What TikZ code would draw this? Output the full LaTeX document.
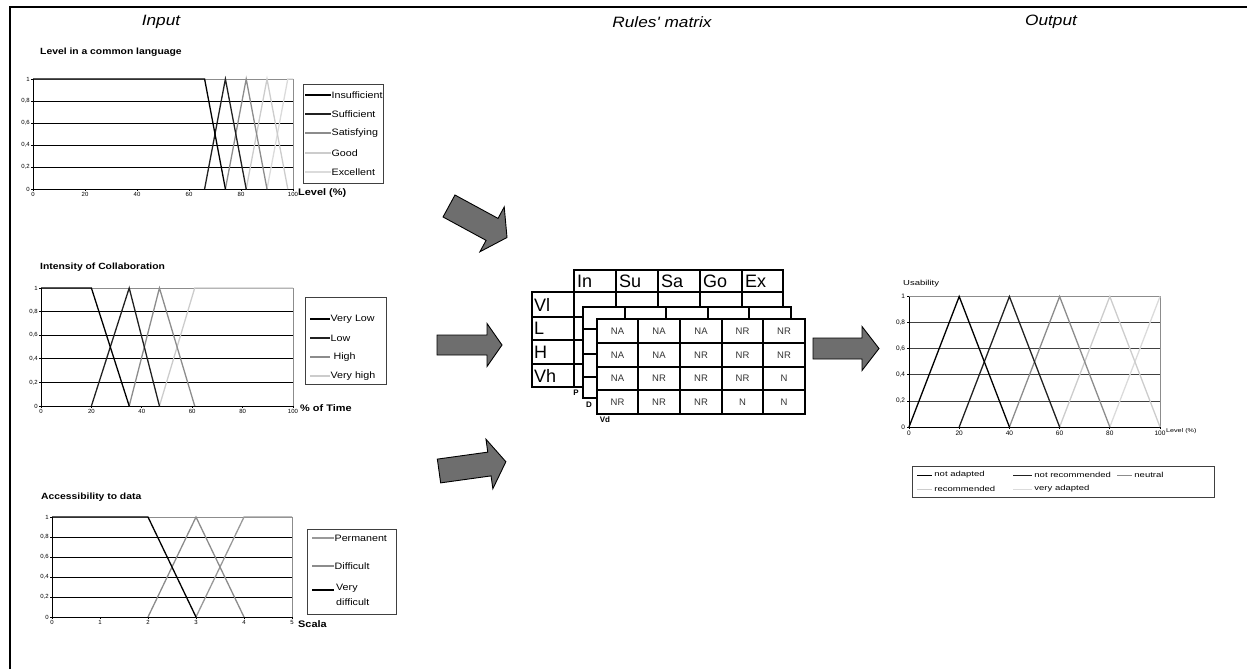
\documentclass[tikz,border=0pt]{standalone}
\usepackage{fontspec}
\setmainfont{Liberation Sans}
\newfontfamily\chf[FakeStretch=1.15]{Liberation Sans}
\newfontfamily\otf[FakeStretch=1.3]{Liberation Sans}
\definecolor{ca}{gray}{0}
\definecolor{cb}{gray}{0.13}
\definecolor{cc}{gray}{0.55}
\definecolor{cd}{gray}{0.80}
\definecolor{ce}{gray}{0.86}
\definecolor{arrowgray}{gray}{0.43}
\tikzset{
  ttl/.style={font=\chf\itshape\fontsize{15}{17}\selectfont, inner sep=0},
  ctitle/.style={font=\chf\bfseries\fontsize{9}{10}\selectfont, anchor=west, inner sep=0},
  axlbl/.style={font=\chf\bfseries\fontsize{9.5}{10}\selectfont, anchor=west, inner sep=0},
  leg/.style={font=\chf\fontsize{9.3}{10}\selectfont, anchor=west, inner sep=0, align=left, text=black},
  oleg/.style={font=\otf\fontsize{7.3}{8}\selectfont, anchor=west, inner sep=0, text=black},
  tick/.style={font=\fontsize{6}{7}\selectfont, inner sep=1pt},
  otick/.style={font=\fontsize{6.5}{7}\selectfont, inner sep=1.5pt},
  gridl/.style={black, line width=0.8pt},
  pframe/.style={black!45, line width=0.8pt},
  axisl/.style={black, line width=0.8pt},
  ml/.style={line width=1.3pt},
  legbox/.style={draw=black!75, line width=0.9pt, fill=none, inner sep=0},
  tab/.style={draw=black, line width=1.3pt, fill=white},
  hdr/.style={font=\fontsize{18}{20}\selectfont, anchor=west, inner sep=0},
  cell/.style={font=\fontsize{9.5}{10}\selectfont, text=black!80, inner sep=0},
  lay/.style={font=\bfseries\fontsize{8}{9}\selectfont, inner sep=0},
  barrow/.style={draw=black, line width=0.9pt, fill=arrowgray, line join=miter},
}
% tail x, tail y, angle, length, shaft width, head width, head length
\newcommand\blockarr[7]{%
  \begin{scope}[shift={(#1,#2)}, rotate=#3]
    \draw[barrow] (0pt,-#5pt/2) -- (#4pt-#7pt,-#5pt/2) -- (#4pt-#7pt,-#6pt/2) -- (#4pt,0pt)
      -- (#4pt-#7pt,#6pt/2) -- (#4pt-#7pt,#5pt/2) -- (0pt,#5pt/2) -- cycle;
  \end{scope}}
% chart base: xmax, tick list, name prefix, tick style, grid colour
\newcommand\chartbase[5]{%
  \foreach \v in {0.2,0.4,0.6,0.8} \draw[gridl, draw=#5] (0,\v) -- (#1,\v);
  \draw[pframe] (0,1) -- (#1,1) -- (#1,0);
  \draw[axisl] (0,1) -- (0,0) -- (#1,0);
  \foreach \v/\l [count=\i] in {0/0,0.2/{0,2},0.4/{0,4},0.6/{0,6},0.8/{0,8},1/1}
    \draw[axisl] (0,\v) -- ++(-2pt,0) node[#4,left] (#3y\i) {\l};
  \foreach \v [count=\i] in {#2}
    \draw[axisl] (\v,0) -- ++(0,-2pt) node[#4,below] (#3x\i) {\v};
}
\begin{document}
\begin{tikzpicture}[x=1pt,y=-1pt]
\useasboundingbox (0,0) rectangle (1247,669);
% frame
\draw[line width=2pt] (10,669) -- (10,7) -- (1247,7);
% titles
\node[ttl] (tin) at (161,22) {Input};
\node[ttl] (trm) at (662,22) {Rules' matrix};
\node[ttl] (tout) at (1051,22) {Output};

% ---------- chart 1 ----------
\node[ctitle] (c1t) at (40,52) {Level in a common language};
\begin{scope}[shift={(33,189)}, x=2.6pt, y=110pt]
  \chartbase{100}{0,20,40,60,80,100}{ca}{tick}{black}
  \draw[ml, ce] (90,0) -- (98,1) -- (100,1);
  \draw[ml, cd] (82,0) -- (90,1) -- (98,0);
  \draw[ml, cc] (74,0) -- (82,1) -- (90,0);
  \draw[ml, cb] (66,0) -- (74,1) -- (82,0);
  \draw[ml, ca] (0,1) -- (66,1) -- (74,0);
\end{scope}
\node[axlbl] (c1ax) at (298,193) {Level (\%)};
\draw[legbox] (303,84) rectangle (383,183);
\draw[ml, ca] (305,95) -- (331,95) node[leg] (l1a) {Insufficient};
\draw[ml, cb] (305,114) -- (331,114) node[leg] (l1b) {Sufficient};
\draw[ml, cc] (305,133) -- (331,133) node[leg] (l1c) {Satisfying};
\draw[ml, cd] (305,153) -- (331,153) node[leg] (l1d) {Good};
\draw[ml, ce] (305,172) -- (331,172) node[leg] (l1e) {Excellent};

% ---------- chart 2 ----------
\node[ctitle] (c2t) at (40,267) {Intensity of Collaboration};
\begin{scope}[shift={(41,406)}, x=2.52pt, y=118pt]
  \chartbase{100}{0,20,40,60,80,100}{cb}{tick}{black}
  \draw[ml, cd] (47,0) -- (61,1) -- (100,1);
  \draw[ml, cc] (35,0) -- (47,1) -- (61,0);
  \draw[ml, cb] (20,0) -- (35,1) -- (47,0);
  \draw[ml, ca] (0,1) -- (20,1) -- (35,0);
\end{scope}
\node[axlbl] (c2ax) at (300,408) {\% of Time};
\draw[legbox] (305,297) rectangle (386,384);
\draw[ml, ca] (310,319) -- (330,319) node[leg] (l2a) {Very Low};
\draw[ml, cb] (310,338) -- (330,338) node[leg] (l2b) {Low};
\draw[ml, cc] (310,357) -- (330,357) node[leg] (l2c) {\ High};
\draw[ml, cd] (310,376) -- (330,376) node[leg] (l2d) {Very high};

% ---------- chart 3 ----------
\node[ctitle] (c3t) at (41,497) {Accessibility to data};
\begin{scope}[shift={(52,617)}, x=48pt, y=100pt]
  \chartbase{5}{0,1,2,3,4,5}{cc}{tick}{black}
  \draw[ml, black!40] (3,0) -- (4,1) -- (5,1);
  \draw[ml, cc] (2,0) -- (3,1) -- (4,0);
  \draw[ml, ca] (0,1) -- (2,1) -- (3,0);
\end{scope}
\node[axlbl] (c3ax) at (298,624) {Scala};
\draw[legbox] (307,529) rectangle (396,614);
\draw[ml, black!40] (312,538) -- (334,538) node[leg] (l3a) {Permanent};
\draw[ml, cc] (312,566) -- (334,566) node[leg] (l3b) {Difficult};
\draw[ml, ca] (312,590) -- (334,590);
\node[leg, anchor=north west] (l3c) at (336,584) {Very\\[5pt]difficult};

% ---------- output chart ----------
\node[oleg] (usab) at (903,284) {Usability};
\begin{scope}[shift={(909,427)}, x=2.51pt, y=130.5pt]
  \chartbase{100}{0,20,40,60,80,100}{oc}{otick}{black!75}
  \draw[ml, ce] (80,0) -- (100,1);
  \draw[ml, cd] (60,0) -- (80,1) -- (100,0);
  \draw[ml, cc] (40,0) -- (60,1) -- (80,0);
  \draw[ml, cb] (20,0) -- (40,1) -- (60,0);
  \draw[ml, ca] (0,0) -- (20,1) -- (40,0);
\end{scope}
\node[font=\otf\fontsize{5.5}{6}\selectfont, anchor=west, inner sep=0] (oax) at (1166,431) {Level (\%)};
\draw[legbox] (912,466) rectangle (1214,497);
\draw[line width=0.9pt, ca] (917,475) -- (932,475) node[oleg, xshift=2pt] (ola) {not adapted};
\draw[line width=0.9pt, cb] (1013,475) -- (1032,475) node[oleg, xshift=2pt] (olb) {not recommended};
\draw[line width=0.9pt, cc] (1117,475) -- (1132,475) node[oleg, xshift=2pt] (olc) {neutral};
\draw[line width=0.9pt, cd] (917,489) -- (932,489) node[oleg, xshift=2pt] (old) {recommended};
\draw[line width=0.9pt, ce] (1013,489) -- (1032,489) node[oleg, xshift=2pt] (ole) {very adapted};

% ---------- rules matrix ----------
% back layer (P)
\draw[tab] (574,270) rectangle (783,292);
\foreach \x in {616,658,700,742} \draw[tab] (\x,270) -- (\x,292);
\draw[tab] (532,292) rectangle (783,387);
\draw[tab] (574,292) -- (574,387);
\foreach \x in {616,658,700,742} \draw[tab] (\x,292) -- (\x,387);
\foreach \y in {317,340,364} \draw[tab] (532,\y) -- (783,\y);
\foreach \t/\x [count=\i] in {In/574,Su/616,Sa/658,Go/700,Ex/742}
  \node[hdr] (h\i) at (\x+3,281.5) {\t};
\foreach \t/\y [count=\i] in {Vl/304.5,L/328.5,H/352,Vh/375.5}
  \node[hdr] (r\i) at (534,\y) {\t};
\node[lay] (lp) at (576,393) {P};
% middle layer (D)
\draw[tab] (583,307) rectangle (791,398);
\foreach \x in {625,666,708,749} \draw[tab] (\x,307) -- (\x,398);
\foreach \y in {329,354,377} \draw[tab] (583,\y) -- (791,\y);
\node[lay] (ld) at (589,405) {D};
% front layer (Vd)
\draw[tab] (597,319) rectangle (805,414);
\foreach \x in {638,680,722,763} \draw[tab] (\x,319) -- (\x,414);
\foreach \y in {343,367,390} \draw[tab] (597,\y) -- (805,\y);
\node[lay] (lvd) at (605,420) {Vd};
\foreach \r/\y in {1/331,2/355,3/378.5,4/402} {
  \foreach \c/\x in {1/617.5,2/659,3/701,4/742.5,5/784} {
    \coordinate (m\r\c) at (\x,\y);
  }
}
\foreach \c/\t in {1/NA,2/NA,3/NA,4/NR,5/NR} \node[cell] (t1\c) at (m1\c) {\t};
\foreach \c/\t in {1/NA,2/NA,3/NR,4/NR,5/NR} \node[cell] (t2\c) at (m2\c) {\t};
\foreach \c/\t in {1/NA,2/NR,3/NR,4/NR,5/N} \node[cell] (t3\c) at (m3\c) {\t};
\foreach \c/\t in {1/NR,2/NR,3/NR,4/N,5/N} \node[cell] (t4\c) at (m4\c) {\t};

% ---------- block arrows ----------
\blockarr{449}{206}{-28.5}{66}{25}{51}{17}
\blockarr{437}{345}{0}{65}{20}{43}{15}
\blockarr{439}{471}{7.9}{67.5}{24}{50}{16.6}
\blockarr{813}{348.5}{0}{66}{21}{44}{17}
\end{tikzpicture}
\end{document}
